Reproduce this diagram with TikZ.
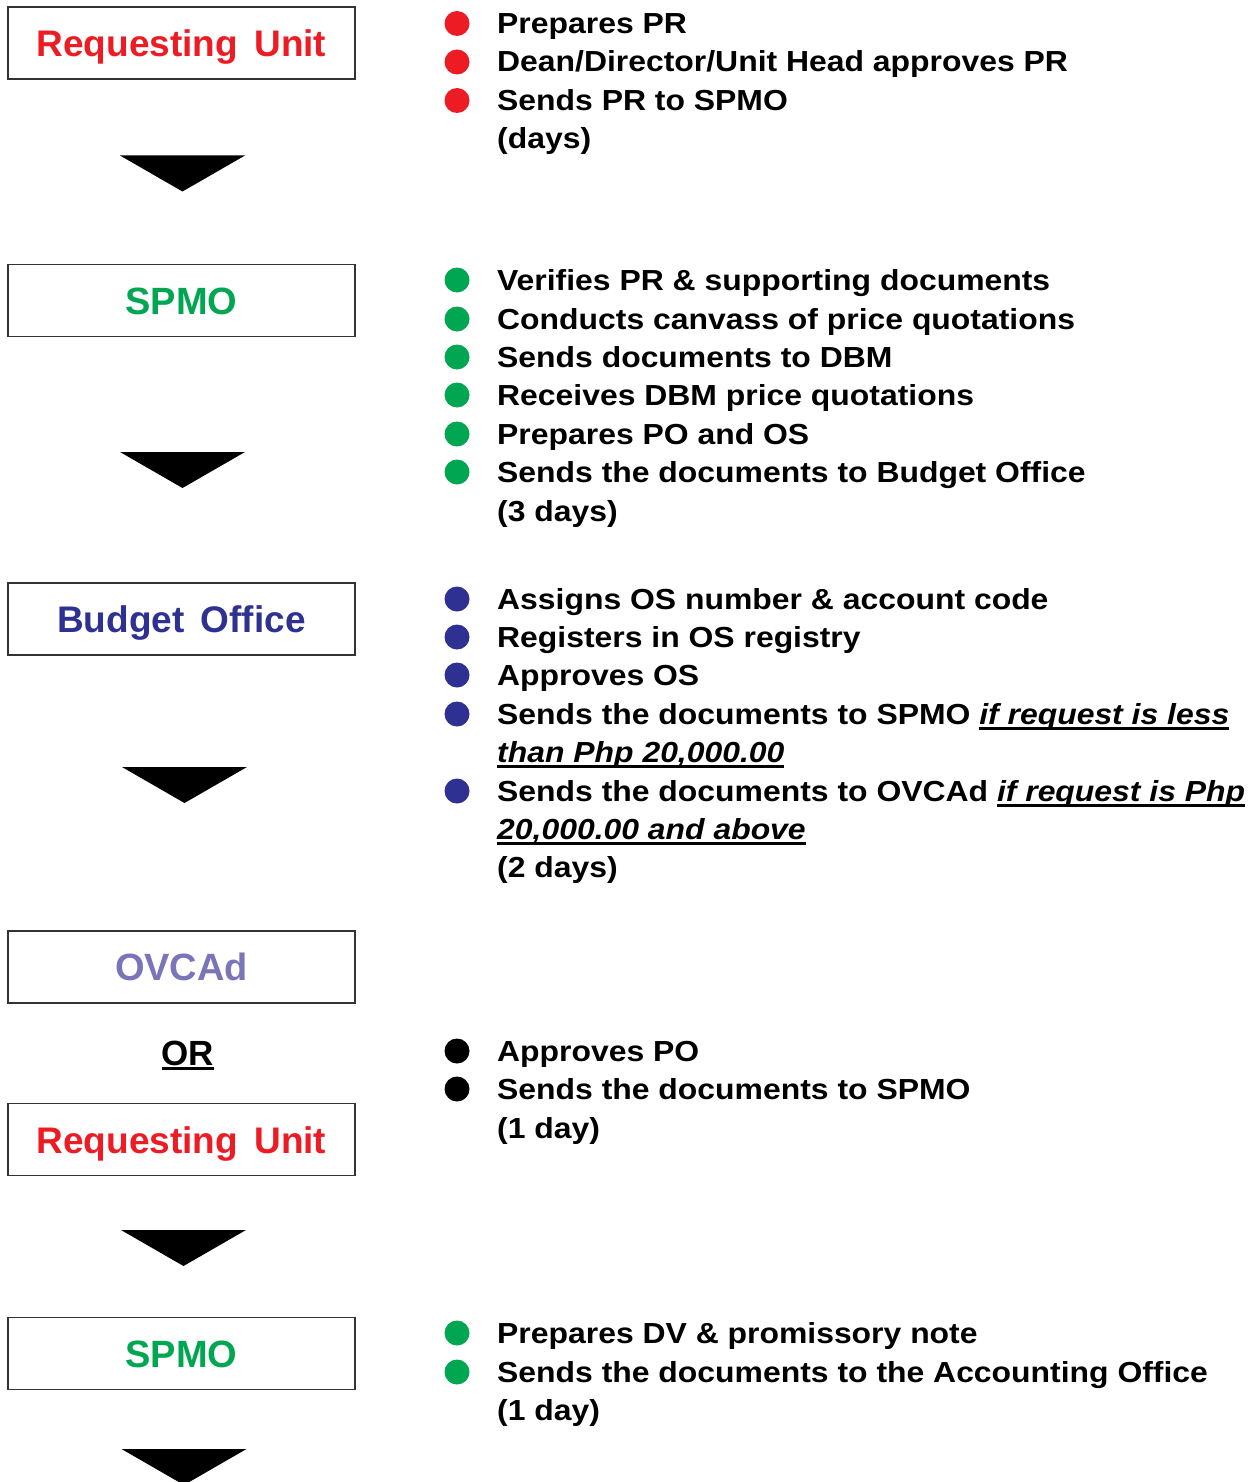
\documentclass[tikz,border=0pt]{standalone}
\usepackage{fontspec}
\setmainfont{Liberation Sans}
\newfontfamily\itemfont{Liberation Sans}[FakeStretch=1.1]

\definecolor{rd}{HTML}{ED1C24}
\definecolor{gn}{HTML}{00A651}
\definecolor{bl}{HTML}{2E3192}
\definecolor{pu}{HTML}{7A74B9}
\definecolor{boxline}{HTML}{333333}

% underlined phrase with a heavy rule below the baseline
\newcommand\undr[2][-6pt]{\setbox0\hbox{#2}\rlap{\rule[#1]{\wd0}{3pt}}\box0}
% two-word unit label with a wide word gap
\newcommand\twoword[2]{{\fontsize{37}{44}\selectfont #1\hspace{6pt} #2}}

\tikzset{
  unitbox/.style={draw=boxline, line width=1.1pt, minimum width=347pt, minimum height=72pt,
    inner sep=0pt, text height=27.2pt, text depth=0pt, font=\fontsize{38}{44}\selectfont\bfseries},
  item/.style={anchor=base west, inner sep=0pt, font=\itemfont\fontsize{29}{35}\selectfont\bfseries},
  dot/.style={circle, minimum size=25pt, inner sep=0pt},
  arrowtri/.style={fill=black}
}
\newcommand\downtri[2]{\fill[arrowtri] (#1-62.5,#2) -- (#1+62.5,#2) -- (#1,#2+36) -- cycle;}

\begin{document}
\begin{tikzpicture}[x=1pt,y=-1pt]
\clip (0,0) rectangle (1256,1482);
\fill[white] (0,0) rectangle (1256,1482);

% unit boxes
\node[unitbox, text=rd] (ru1) at (181.5,43) {\twoword{Requesting}{Unit}};
\node[unitbox, text=gn] (sp1) at (181.5,300.5) {SPMO};
\node[unitbox, text=bl] (bo) at (181.5,619) {\twoword{Budget}{Office}};
\node[unitbox, text=pu] (ov) at (181.5,967) {OVCAd};
\node[font=\fontsize{35}{40}\selectfont\bfseries, inner sep=0pt, anchor=base] (or) at (188,1065) {\undr[-5pt]{OR}};
\node[unitbox, text=rd] (ru2) at (181.5,1139.5) {\twoword{Requesting}{Unit}};
\node[unitbox, text=gn] (sp2) at (181.5,1353.5) {SPMO};

% flow arrows
\downtri{182.5}{155.5}
\downtri{182.5}{452}
\downtri{184.5}{767}
\downtri{183.5}{1230}
\downtri{184}{1449}

% Requesting Unit tasks
\foreach \y/\n in {23.5/dr1, 62/dr2, 100.5/dr3} \node[dot, fill=rd] (\n) at (457,\y) {};
\node[item] (r1) at (497,33.5) {Prepares PR};
\node[item] (r2) at (497,72) {Dean/Director/Unit Head approves PR};
\node[item] (r3) at (497,110.5) {Sends PR to SPMO};
\node[item] (r4) at (497,149) {(days)};

% SPMO tasks
\foreach \y/\n in {280/dg1, 319/dg2, 357/dg3, 395/dg4, 434/dg5, 472/dg6} \node[dot, fill=gn] (\n) at (457,\y) {};
\node[item] (g1) at (497,290) {Verifies PR \& supporting documents};
\node[item] (g2) at (497,329) {Conducts canvass of price quotations};
\node[item] (g3) at (497,367) {Sends documents to DBM};
\node[item] (g4) at (497,405) {Receives DBM price quotations};
\node[item] (g5) at (497,444) {Prepares PO and OS};
\node[item] (g6) at (497,482) {Sends the documents to Budget Office};
\node[item] (g7) at (497,521) {(3 days)};

% Budget Office tasks
\foreach \y/\n in {599/db1, 637/db2, 675/db3, 714/db4, 791/db5} \node[dot, fill=bl] (\n) at (457,\y) {};
\node[item] (b1) at (497,609) {Assigns OS number \& account code};
\node[item] (b2) at (497,647) {Registers in OS registry};
\node[item] (b3) at (497,685) {Approves OS};
\node[item] (b4) at (497,724) {Sends the documents to SPMO \undr{\itshape if request is less}};
\node[item] (b5) at (497,762) {\undr{\itshape than Php 20,000.00}};
\node[item] (b6) at (497,801) {Sends the documents to OVCAd \undr{\itshape if request is Php}};
\node[item] (b7) at (497,839) {\undr{\itshape 20,000.00 and above}};
\node[item] (b8) at (497,877) {(2 days)};

% approval tasks
\foreach \y/\n in {1051/dk1, 1089/dk2} \node[dot, fill=black] (\n) at (457,\y) {};
\node[item] (k1) at (497,1061) {Approves PO};
\node[item] (k2) at (497,1099) {Sends the documents to SPMO};
\node[item] (k3) at (497,1138) {(1 day)};

% SPMO payment tasks
\foreach \y/\n in {1333/dh1, 1372/dh2} \node[dot, fill=gn] (\n) at (457,\y) {};
\node[item] (h1) at (497,1343) {Prepares DV \& promissory note};
\node[item] (h2) at (497,1382) {Sends the documents to the Accounting Office};
\node[item] (h3) at (497,1420) {(1 day)};
\end{tikzpicture}
\end{document}
